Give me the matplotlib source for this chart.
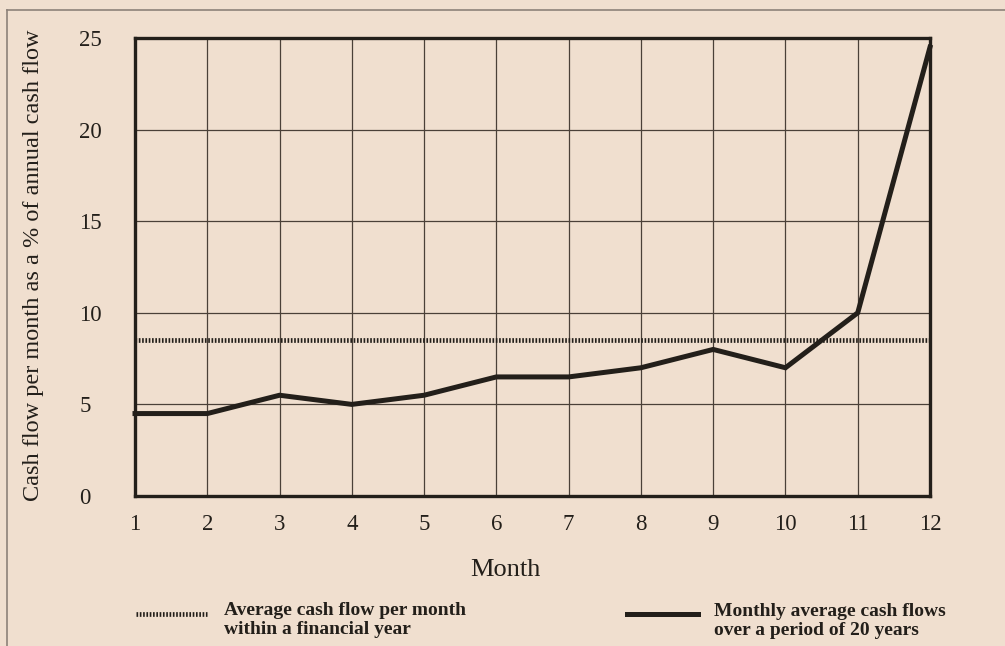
import matplotlib
matplotlib.use("Agg")
import matplotlib.pyplot as plt
from matplotlib.lines import Line2D

# data
months = [1, 2, 3, 4, 5, 6, 7, 8, 9, 10, 11, 12]
monthly_avg = [4.5, 4.5, 5.5, 5.0, 5.5, 6.5, 6.5, 7.0, 8.0, 7.0, 10.0, 24.5]
year_avg = 8.5
y_ticks = [0, 5, 10, 15, 20, 25]

bg = "#f0dfcf"
ink = "#231f1a"
grid_col = "#4a4038"

plt.rcParams["font.family"] = ["Liberation Serif", "DejaVu Serif"]

fig = plt.figure(figsize=(10.05, 6.46), dpi=100, facecolor=bg)
W, H = 1005.0, 646.0
ax = fig.add_axes([135 / W, 1 - 496 / H, 795 / W, 458 / H])
ax.set_facecolor(bg)

ax.set_xlim(1, 12)
ax.set_ylim(0, 25)
ax.set_xticks(months)
ax.set_yticks(y_ticks)
ax.grid(True, color=grid_col, linewidth=0.9)
ax.set_axisbelow(True)
ax.tick_params(length=0, labelsize=16.5, colors=ink)
ax.tick_params(axis="y", pad=40)
ax.tick_params(axis="x", pad=13)
for lab in ax.get_yticklabels():
    lab.set_horizontalalignment("left")
for sp in ax.spines.values():
    sp.set_linewidth(2.4)
    sp.set_color(ink)

# average over the financial year (dotted band)
ax.axhline(year_avg, color=ink, linewidth=3.4, dashes=(0.35, 0.35), zorder=3)
# monthly averages over 20 years
ax.plot(months, monthly_avg, color=ink, linewidth=3.6, solid_joinstyle="miter", zorder=4,
        clip_on=False)

fig.text(34 / W, 1 - 265 / H, "Cash flow per month as a % of annual cash flow",
         rotation=90, ha="center", va="center", fontsize=17.5, color=ink)
fig.text(505 / W, 1 - 570 / H, "Month", ha="center", va="center", fontsize=19, color=ink)

# legend drawn by hand at the bottom
fig.add_artist(Line2D([136 / W, 207 / W], [1 - 614 / H] * 2, color=ink, linewidth=3.4,
                      dashes=(0.35, 0.35)))
fig.add_artist(Line2D([627 / W, 698 / W], [1 - 614 / H] * 2, color=ink, linewidth=3.6))
fig.text(224 / W, 1 - 620 / H, "Average cash flow per month\nwithin a financial year",
         ha="left", va="center", fontsize=14, fontweight="bold", color=ink, linespacing=1.12)
fig.text(714 / W, 1 - 621 / H, "Monthly average cash flows\nover a period of 20 years",
         ha="left", va="center", fontsize=14, fontweight="bold", color=ink, linespacing=1.12)

# outer frame of the figure
fig.add_artist(Line2D([7 / W, 1.0], [1 - 10 / H] * 2, color="#8d8279", linewidth=1.2))
fig.add_artist(Line2D([7 / W] * 2, [0.0, 1 - 10 / H], color="#8d8279", linewidth=1.2))

fig.savefig("out.png", dpi=100, facecolor=bg)
